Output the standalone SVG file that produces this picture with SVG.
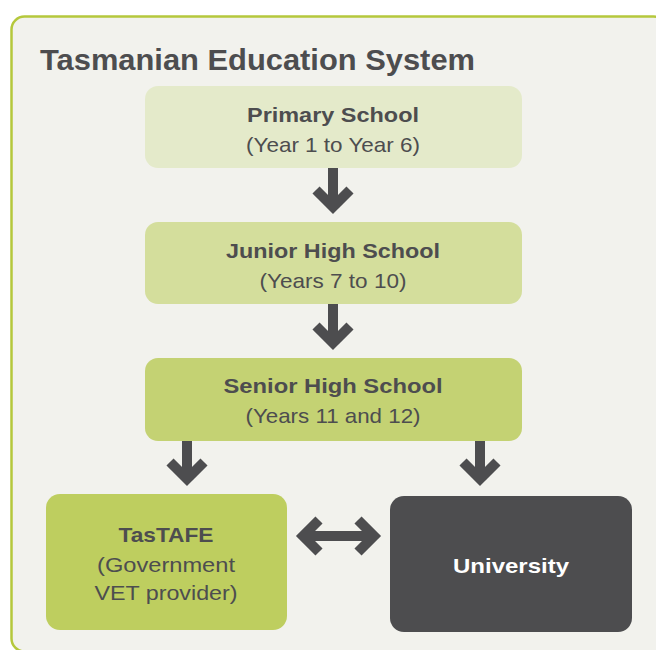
<svg xmlns="http://www.w3.org/2000/svg" width="656" height="650" viewBox="0 0 656 650">
<style>
.t{font-family:"Liberation Sans",Arial,sans-serif;fill:#4d4d4f;text-anchor:middle}
.b{font-weight:bold;font-size:21px}
.r{font-size:21px}
.ar{fill:none;stroke:#4d4d4f;stroke-width:10;stroke-linecap:butt;stroke-linejoin:miter;stroke-miterlimit:10}
</style>
<rect width="656" height="650" fill="#ffffff"/>
<g id="frame">
<rect x="11.5" y="16.5" width="655" height="635" rx="13" fill="#f2f2ed" stroke="#b5c83c" stroke-width="2.5"/>
<text x="40" y="70" font-family="Liberation Sans,Arial,sans-serif" font-weight="bold" font-size="30" fill="#4d4d4f" textLength="435" lengthAdjust="spacingAndGlyphs">Tasmanian Education System</text>
</g>
<g id="primary">
<rect x="145" y="86" width="377" height="82" rx="13" fill="#e4eaca"/>
<text class="t b" x="333" y="122" textLength="172" lengthAdjust="spacingAndGlyphs">Primary School</text>
<text class="t r" x="333" y="152" textLength="174" lengthAdjust="spacingAndGlyphs">(Year 1 to Year 6)</text>
</g>
<g id="junior">
<rect x="145" y="222" width="377" height="82" rx="13" fill="#d4de9c"/>
<text class="t b" x="333" y="258" textLength="214" lengthAdjust="spacingAndGlyphs">Junior High School</text>
<text class="t r" x="333" y="288" textLength="147" lengthAdjust="spacingAndGlyphs">(Years 7 to 10)</text>
</g>
<g id="senior">
<rect x="145" y="358" width="377" height="83" rx="13" fill="#c4d273"/>
<text class="t b" x="333" y="393" textLength="219" lengthAdjust="spacingAndGlyphs">Senior High School</text>
<text class="t r" x="333" y="423" textLength="175" lengthAdjust="spacingAndGlyphs">(Years 11 and 12)</text>
</g>
<g id="tastafe">
<rect x="46" y="494" width="241" height="136" rx="14" fill="#bece5f"/>
<text class="t b" x="166" y="542" textLength="95" lengthAdjust="spacingAndGlyphs">TasTAFE</text>
<text class="t r" x="166" y="572" textLength="138" lengthAdjust="spacingAndGlyphs">(Government</text>
<text class="t r" x="166" y="600" textLength="143" lengthAdjust="spacingAndGlyphs">VET provider)</text>
</g>
<g id="university">
<rect x="390" y="496" width="242" height="136" rx="14" fill="#4d4d4f"/>
<text class="t b" x="511" y="573" style="fill:#ffffff" textLength="116" lengthAdjust="spacingAndGlyphs">University</text>
</g>
<g id="connectors">
<path class="ar" d="M333 168 V208 M316 190 L333 207 L350 190"/>
<path class="ar" d="M333 304 V344 M316 326 L333 343 L350 326"/>
<path class="ar" d="M187 441 V480 M170 462 L187 479 L204 462"/>
<path class="ar" d="M480 441 V480 M463 462 L480 479 L497 462"/>
<path class="ar" d="M303 536 H374 M319 520 L303 536 L319 552 M358 520 L374 536 L358 552"/>
</g>
</svg>
